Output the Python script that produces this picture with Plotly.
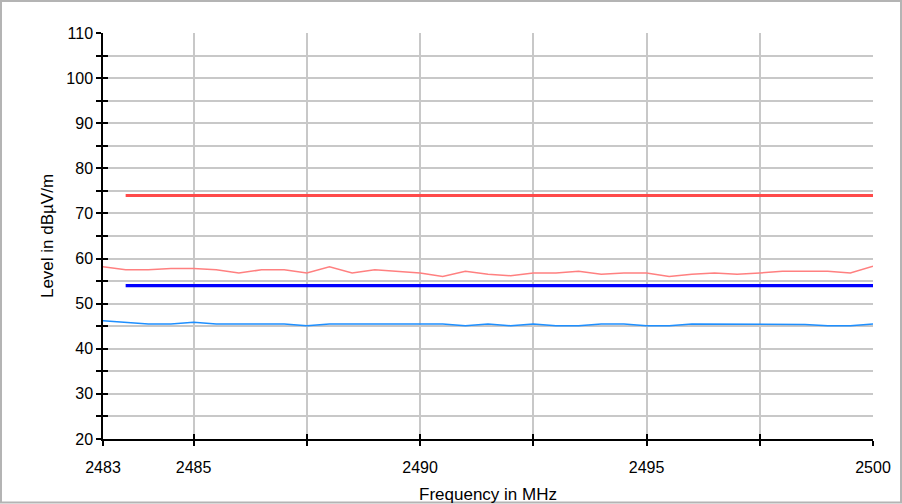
import plotly.graph_objects as go

# ---- data ----
freq_mhz = [2483.0 + 0.5 * i for i in range(35)]
peak_level = [58.2, 57.5, 57.5, 57.8, 57.8, 57.5, 56.8, 57.5, 57.5, 56.8,
              58.2, 56.8, 57.5, 57.2, 56.8, 56.0, 57.2, 56.5, 56.2, 56.8,
              56.8, 57.2, 56.5, 56.8, 56.8, 56.0, 56.5, 56.8, 56.5, 56.8,
              57.2, 57.2, 57.2, 56.8, 58.3]
avg_level = [46.2, 45.9, 45.5, 45.5, 45.9, 45.5, 45.5, 45.5, 45.5, 45.1,
             45.5, 45.5, 45.5, 45.5, 45.5, 45.5, 45.1, 45.5, 45.1, 45.5,
             45.1, 45.1, 45.5, 45.5, 45.1, 45.1, 45.5, 45.5, 45.5, 45.5,
             45.5, 45.4, 45.1, 45.1, 45.5]
limit_freq = [2483.5, 2500.0]
peak_limit = [74.0, 74.0]
avg_limit = [54.0, 54.0]

x_tickvals = [2483, 2485, 2487.5, 2490, 2492.5, 2495, 2497.5, 2500]
x_ticktext = ["2483", "2485", "", "2490", "", "2495", "", "2500"]
y_tickvals = list(range(20, 111, 5))
y_ticktext = [str(v) if v % 10 == 0 else "" for v in y_tickvals]

FONT = "Liberation Sans, Arial, sans-serif"

fig = go.Figure()
fig.add_trace(go.Scatter(x=freq_mhz, y=peak_level, mode="lines",
                         line=dict(color="#ff8080", width=1.5), showlegend=False))
fig.add_trace(go.Scatter(x=freq_mhz, y=avg_level, mode="lines",
                         line=dict(color="#1e8fff", width=1.5), showlegend=False))
fig.add_trace(go.Scatter(x=limit_freq, y=peak_limit, mode="lines",
                         line=dict(color="#ff4a4a", width=3), showlegend=False))
fig.add_trace(go.Scatter(x=limit_freq, y=avg_limit, mode="lines",
                         line=dict(color="#0000ff", width=3.2), showlegend=False))

common_x = dict(range=[2483, 2500], tickvals=x_tickvals)
common_y = dict(range=[20, 110], tickvals=y_tickvals)

fig.update_layout(
    width=902, height=504,
    margin=dict(l=103, r=29, t=33, b=65),
    paper_bgcolor="white", plot_bgcolor="white",
    font=dict(family=FONT, size=16, color="#000000"),
    xaxis=dict(**common_x, ticktext=x_ticktext, showgrid=True, gridcolor="#c8c8c8",
               gridwidth=1.5, showline=True, linecolor="black", linewidth=1.5,
               ticks="outside", ticklen=5, tickcolor="black", tickwidth=1.5,
               ticklabelstandoff=8, zeroline=False, automargin=False,
               title=dict(text="Frequency in MHz", font=dict(size=17), standoff=14)),
    yaxis=dict(**common_y, ticktext=y_ticktext, showgrid=True, gridcolor="#c8c8c8",
               gridwidth=1.5, showline=True, linecolor="black", linewidth=1.5,
               ticks="outside", ticklen=5, tickcolor="black", tickwidth=1.5,
               zeroline=False, automargin=False,
               title=dict(text="Level in dBµV/m", font=dict(size=17), standoff=8)),
    xaxis2=dict(**common_x, overlaying="x", matches="x", showticklabels=False,
                showgrid=False, showline=False, zeroline=False, automargin=False,
                ticks="inside", ticklen=5, tickcolor="black", tickwidth=1.5),
    yaxis2=dict(**common_y, overlaying="y", matches="y", showticklabels=False,
                showgrid=False, showline=False, zeroline=False, automargin=False,
                ticks="inside", ticklen=5, tickcolor="black", tickwidth=1.5),
)

# invisible trace to anchor overlay axes
fig.add_trace(go.Scatter(x=[limit_freq[0]], y=[peak_limit[0]], xaxis="x2", yaxis="y2",
                         mode="markers", marker=dict(opacity=0), showlegend=False,
                         hoverinfo="skip"))

# outer border around the figure
pw, ph = 902 - 103 - 29, 504 - 33 - 65
fig.add_shape(type="rect", xref="paper", yref="paper",
              x0=-102 / pw, x1=1 + 28 / pw, y0=-63.5 / ph, y1=1 + 32 / ph,
              line=dict(color="#b4b4b4", width=2), fillcolor="rgba(0,0,0,0)", layer="below")

fig.write_html("out.html", config={"displayModeBar": False},
               post_script="document.body.style.margin='0';")
